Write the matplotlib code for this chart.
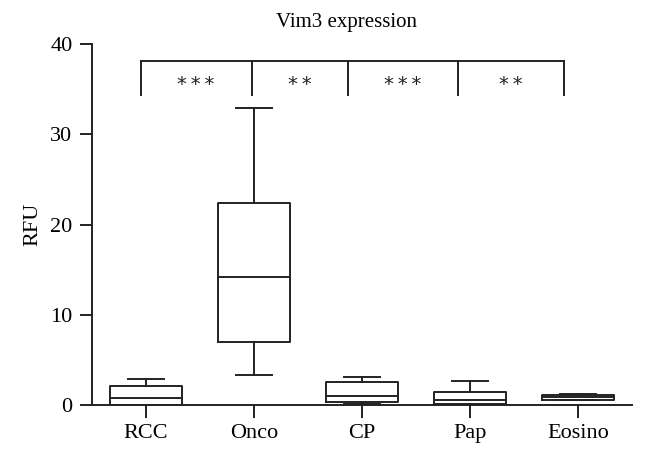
import matplotlib
matplotlib.use("Agg")
import matplotlib.pyplot as plt

# --- Data ---
groups = ["RCC", "Onco", "CP", "Pap", "Eosino"]
whisker_low = [0.0, 3.3, 0.15, 0.0, 0.5]
q1 = [0.05, 7.0, 0.3, 0.1, 0.55]
median = [0.8, 14.2, 1.0, 0.5, 0.85]
q3 = [2.1, 22.4, 2.6, 1.45, 1.1]
whisker_high = [2.85, 32.9, 3.1, 2.7, 1.2]

# significance brackets between neighbouring groups
bracket_x = [-0.05, 0.98, 1.87, 2.89, 3.87]
stars = ["*\u2009*\u2009*", "*\u2009*", "*\u2009*\u2009*", "*\u2009*"]
bracket_top = 38.1
bracket_bottom = 34.35
star_y = 35.5

plt.rcParams['font.family'] = ['Liberation Serif', 'DejaVu Serif']

fig = plt.figure(figsize=(6.46, 4.61), dpi=100)
ax = fig.add_axes([0.1424, 0.1215, 0.8356, 0.783])

stats = []
for i, g in enumerate(groups):
    stats.append({
        'label': g, 'whislo': whisker_low[i], 'q1': q1[i], 'med': median[i],
        'q3': q3[i], 'whishi': whisker_high[i], 'fliers': [],
    })

lc = '#222222'
lw = 1.4
ax.bxp(stats, positions=range(len(groups)), widths=0.667, showfliers=False,
       boxprops=dict(color=lc, linewidth=lw),
       medianprops=dict(color=lc, linewidth=lw),
       whiskerprops=dict(color=lc, linewidth=lw),
       capprops=dict(color=lc, linewidth=lw),
       capwidths=0.33)

# brackets
ax.plot([bracket_x[0], bracket_x[-1]], [bracket_top, bracket_top], color=lc, lw=lw, clip_on=False)
for bx in bracket_x:
    ax.plot([bx, bx], [bracket_bottom, bracket_top], color=lc, lw=lw, clip_on=False)
for i, s in enumerate(stars):
    ax.text((bracket_x[i] + bracket_x[i + 1]) / 2, star_y, s, ha='center', va='center',
            fontsize=14, color=lc, family=['DejaVu Sans'])

ax.set_xlim(-0.5, len(groups) - 0.5)
ax.set_ylim(0, 40)
ax.set_yticks([0, 10, 20, 30, 40])
ax.set_xticks(range(len(groups)))
ax.set_xticklabels(groups)
ax.spines['top'].set_visible(False)
ax.spines['right'].set_visible(False)
for sp in ['left', 'bottom']:
    ax.spines[sp].set_linewidth(lw)
    ax.spines[sp].set_color(lc)
ax.tick_params(axis='both', length=9, width=lw, color=lc, labelsize=16, pad=5)
ax.set_ylabel('RFU', fontsize=16, labelpad=6)
ax.set_title('Vim3 expression', fontsize=15, pad=12, x=0.472)

fig.savefig('out.png', dpi=100)
